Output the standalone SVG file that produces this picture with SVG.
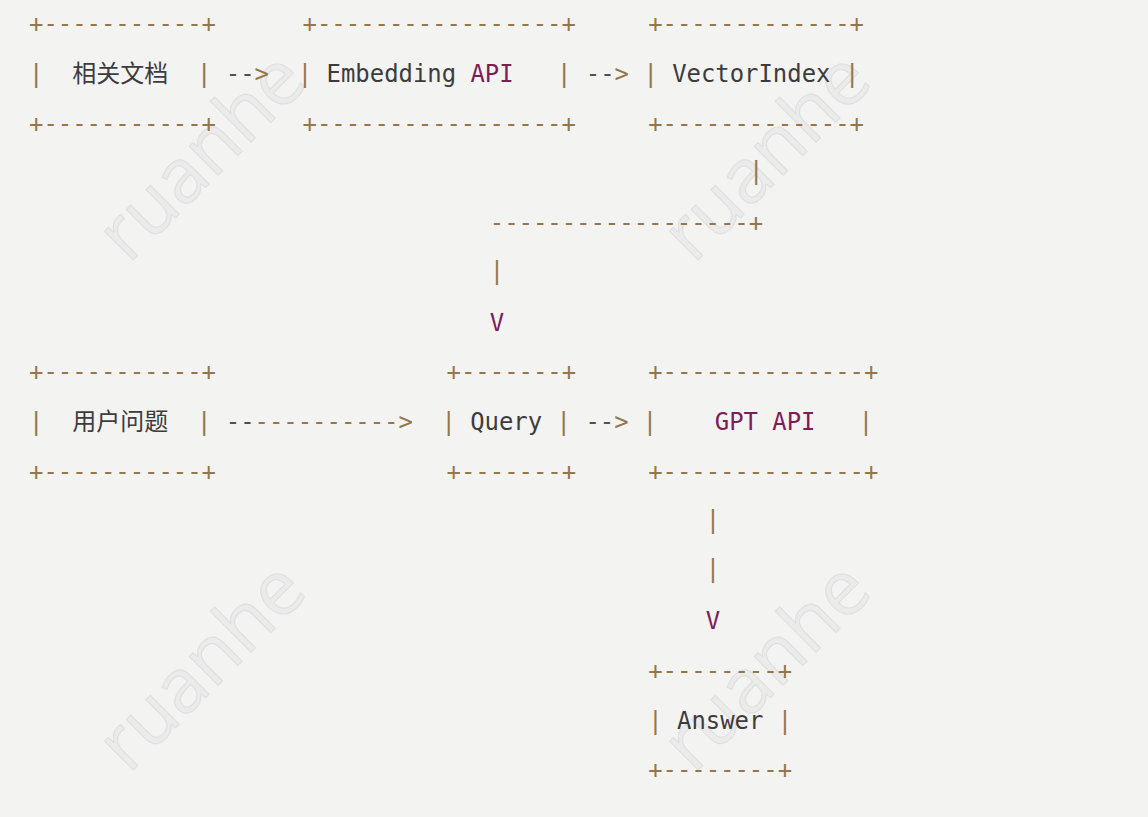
<svg xmlns="http://www.w3.org/2000/svg" width="1148" height="817" viewBox="0 0 1148 817">
<style>
text{font-family:"DejaVu Sans Mono","Liberation Mono",monospace;font-size:23.9px;white-space:pre}
.b{fill:#93764a}
.t{fill:#3c3c3c}
.g{fill:#505050}
.k{fill:#7c1d55}
.c{font-family:"Noto Sans CJK SC","Noto Sans CJK JP",sans-serif;font-size:24px;fill:#3c3c3c}
.w{font-family:"Open Sans","Noto Sans",sans-serif;font-size:76px;fill:#ebebeb;stroke:#e0e0e0;stroke-width:1.2;text-anchor:middle}
</style>
<rect width="1148" height="817" fill="#f3f3f2"/>
<g id="watermark">
<text class="w" x="205" y="180" transform="rotate(-45 205 160)">ruanhe</text>
<text class="w" x="770" y="180" transform="rotate(-45 770 160)">ruanhe</text>
<text class="w" x="205" y="690" transform="rotate(-45 205 670)">ruanhe</text>
<text class="w" x="770" y="690" transform="rotate(-45 770 670)">ruanhe</text>
</g>
<g id="diagram" transform="translate(0,-1)">
<g id="docs">
<text class="b" x="29" y="33">+-----------+</text>
<text class="b" x="29" y="82.75">|</text>
<text class="c" x="72.2" y="82.75">相关文档</text>
<text class="b" x="197" y="82.75">|</text>
<text class="b" x="29" y="132.5">+-----------+</text>
</g>
<g id="embedding">
<text class="b" x="302.6" y="33">+-----------------+</text>
<text class="b" x="297.8" y="82.75">|</text>
<text x="326.6" y="82.75"><tspan class="t">Embedding </tspan><tspan class="k">API</tspan></text>
<text class="b" x="557" y="82.75">|</text>
<text class="b" x="302.6" y="132.5">+-----------------+</text>
</g>
<g id="vectorindex">
<text class="b" x="648.2" y="33">+-------------+</text>
<text class="b" x="643.4" y="82.75">|</text>
<text class="t" x="672.2" y="82.75">VectorIndex</text>
<text class="b" x="845" y="82.75">|</text>
<text class="b" x="648.2" y="132.5">+-------------+</text>
</g>
<g id="question">
<text class="b" x="29" y="381.25">+-----------+</text>
<text class="b" x="29" y="431">|</text>
<text class="c" x="72.2" y="431">用户问题</text>
<text class="b" x="197" y="431">|</text>
<text class="b" x="29" y="480.75">+-----------+</text>
</g>
<g id="query">
<text class="b" x="446.6" y="381.25">+-------+</text>
<text class="b" x="441.4" y="431">|</text>
<text class="t" x="470.2" y="431">Query</text>
<text class="b" x="556.6" y="431">|</text>
<text class="b" x="446.6" y="480.75">+-------+</text>
</g>
<g id="gpt">
<text class="b" x="648.2" y="381.25">+--------------+</text>
<text class="b" x="642.8" y="431">|</text>
<text class="k" x="714.8" y="431">GPT API</text>
<text class="b" x="858.8" y="431">|</text>
<text class="b" x="648.2" y="480.75">+--------------+</text>
</g>
<g id="answer">
<text class="b" x="648.2" y="679.75">+--------+</text>
<text class="b" x="648.2" y="729.5">|</text>
<text class="t" x="677" y="729.5">Answer</text>
<text class="b" x="777.8" y="729.5">|</text>
<text class="b" x="648.2" y="779.25">+--------+</text>
</g>
<g id="connectors">
<text x="225.8" y="82.75"><tspan class="g">--</tspan><tspan class="b">&gt;</tspan></text>
<text x="585.8" y="82.75"><tspan class="g">--</tspan><tspan class="b">&gt;</tspan></text>
<text class="b" x="749" y="180.25">|</text>
<text class="b" x="489.8" y="232">------------------+</text>
<text class="b" x="489.8" y="279.75">|</text>
<text class="k" x="489.8" y="331.5">V</text>
<text x="225.8" y="431"><tspan class="g">--</tspan><tspan class="b">----------&gt;</tspan></text>
<text x="585.4" y="431"><tspan class="g">--</tspan><tspan class="b">&gt;</tspan></text>
<text class="b" x="705.8" y="528.5">|</text>
<text class="b" x="705.8" y="578.25">|</text>
<text class="k" x="705.8" y="630">V</text>
</g>
</g>
</svg>
